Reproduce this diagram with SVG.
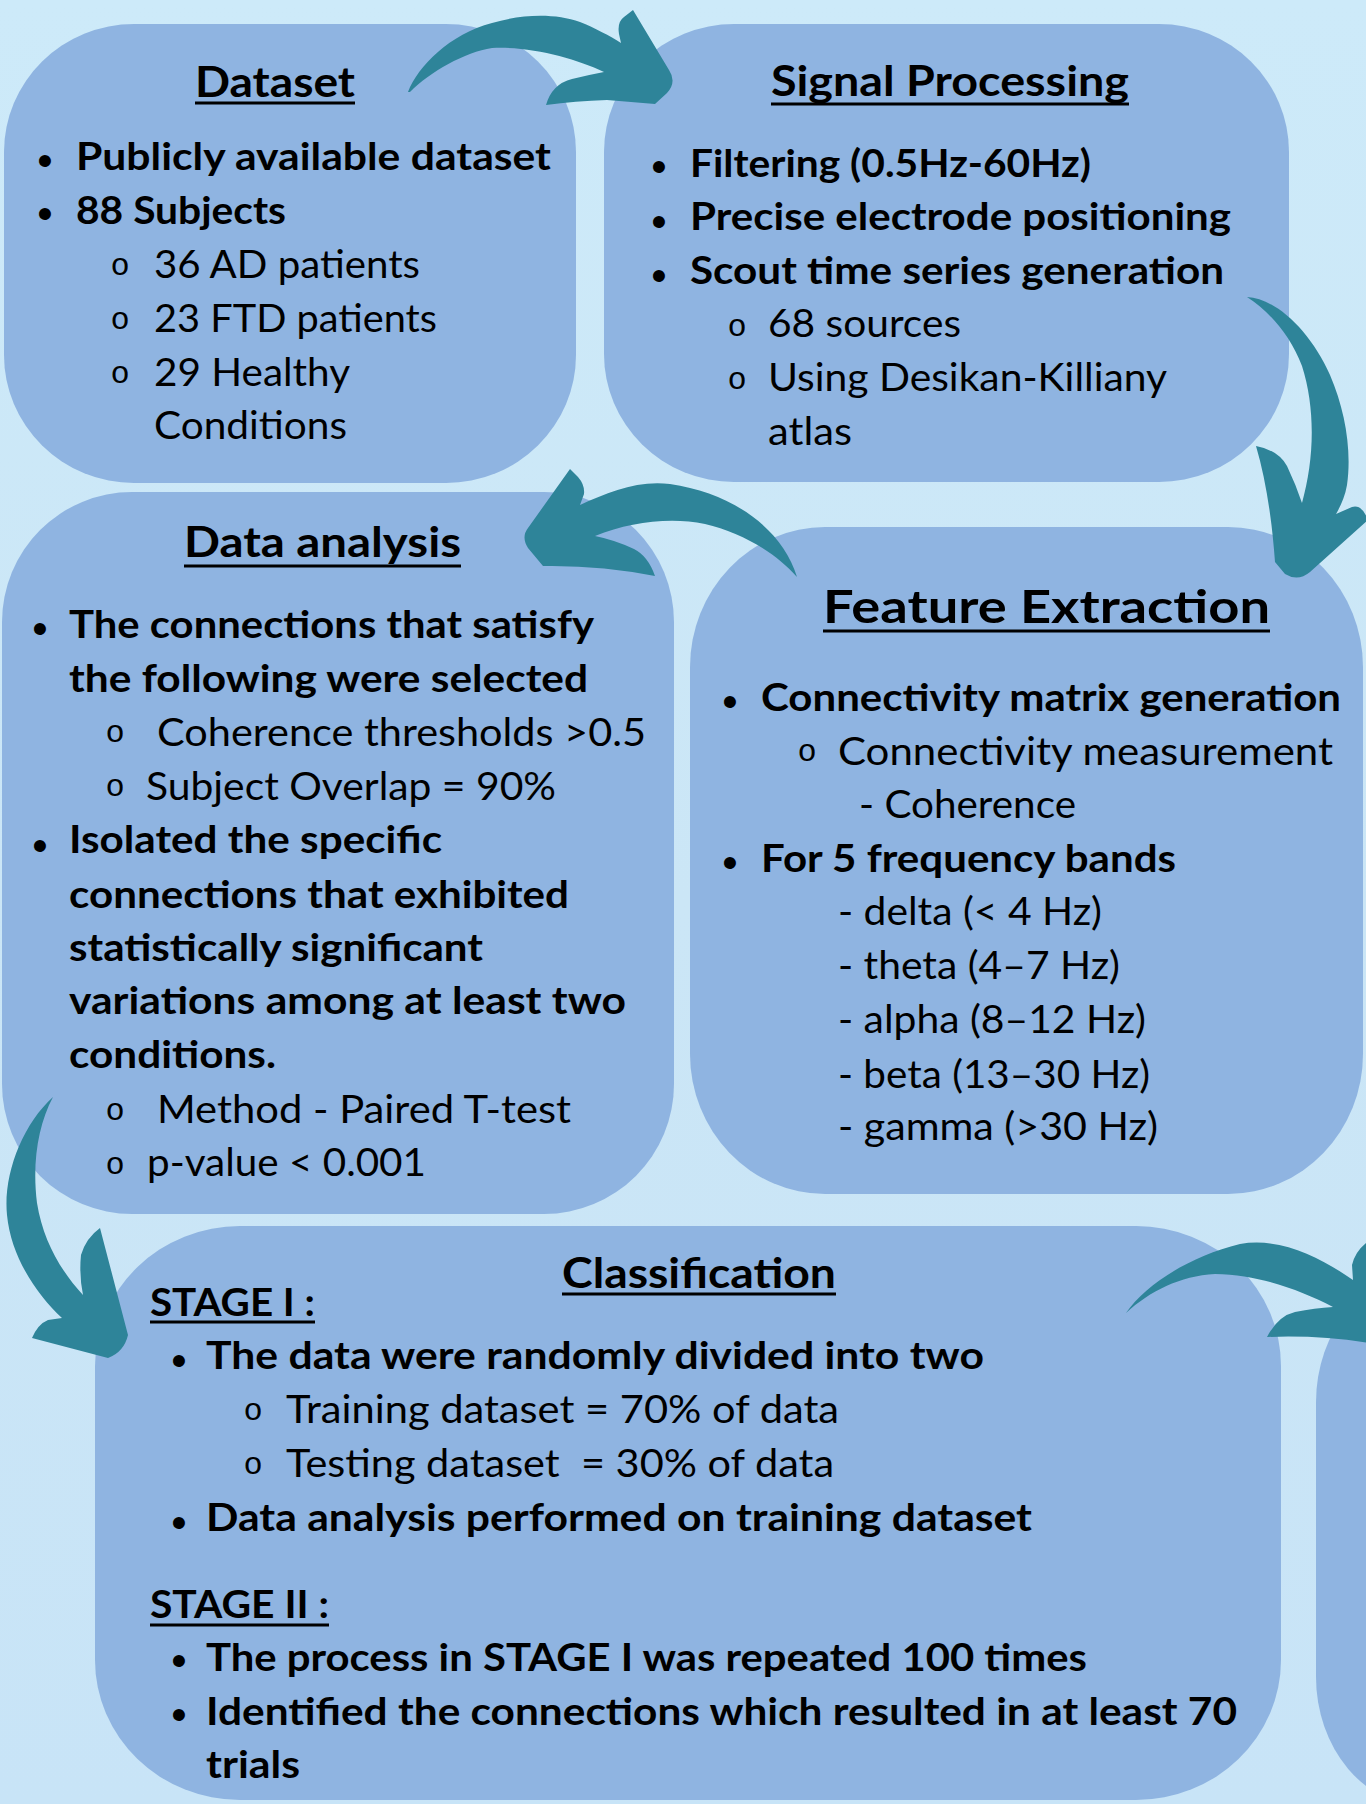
<svg xmlns="http://www.w3.org/2000/svg" width="1366" height="1804" viewBox="0 0 1366 1804">
<defs>
<linearGradient id="bg" x1="0" y1="0" x2="0" y2="1">
<stop offset="0" stop-color="#cdeaf9"/>
<stop offset="0.5" stop-color="#cbe6f6"/>
<stop offset="1" stop-color="#c8e4f7"/>
</linearGradient>
<style>
.box{fill:#8fb4e1}
.arrow{fill:#2e8499}
.t{font-family:Lato,"Open Sans","Liberation Sans",sans-serif;fill:#000}
.h{font-weight:700;font-size:42px}
.hl{font-weight:700;font-size:46px}
.b{font-weight:700;font-size:38px}
.r{font-weight:400;font-size:38px}
.dot{font-family:"Liberation Sans",Arial,sans-serif;font-size:44px;text-anchor:middle;fill:#000}
.ring{font-family:"Liberation Mono","Courier New",monospace;font-size:32px;text-anchor:middle;fill:#000}
.ul{stroke:#000;stroke-width:3}
</style>
</defs>
<rect x="0" y="0" width="1366" height="1804" fill="url(#bg)"/>

<g id="node-dataset">
<rect class="box" x="4" y="24" width="572" height="459" rx="130" ry="128"/>
<text class="t h" x="195" y="97" textLength="160" lengthAdjust="spacingAndGlyphs">Dataset</text>
<line class="ul" x1="195" y1="103" x2="355" y2="103"/>
<text class="dot" x="45" y="176">•</text>
<text class="t b" x="76" y="170" textLength="475" lengthAdjust="spacingAndGlyphs">Publicly available dataset</text>
<text class="dot" x="45" y="229">•</text>
<text class="t b" x="76" y="224" textLength="210" lengthAdjust="spacingAndGlyphs">88 Subjects</text>
<text class="ring" x="120" y="275">o</text>
<text class="t r" x="154" y="278" textLength="266" lengthAdjust="spacingAndGlyphs">36 AD patients</text>
<text class="ring" x="120" y="329">o</text>
<text class="t r" x="154" y="332" textLength="283" lengthAdjust="spacingAndGlyphs">23 FTD patients</text>
<text class="ring" x="120" y="383">o</text>
<text class="t r" x="154" y="386" textLength="196" lengthAdjust="spacingAndGlyphs">29 Healthy</text>
<text class="t r" x="154" y="439" textLength="193" lengthAdjust="spacingAndGlyphs">Conditions</text>
</g>

<g id="node-signal-processing">
<rect class="box" x="604" y="24" width="685" height="458" rx="130" ry="128"/>
<text class="t h" x="771" y="96" textLength="358" lengthAdjust="spacingAndGlyphs">Signal Processing</text>
<line class="ul" x1="771" y1="104" x2="1129" y2="104"/>
<text class="dot" x="659" y="182">•</text>
<text class="t b" x="690" y="177" textLength="401" lengthAdjust="spacingAndGlyphs">Filtering (0.5Hz-60Hz)</text>
<text class="dot" x="659" y="237">•</text>
<text class="t b" x="690" y="230" textLength="541" lengthAdjust="spacingAndGlyphs">Precise electrode positioning</text>
<text class="dot" x="659" y="291">•</text>
<text class="t b" x="690" y="284" textLength="534" lengthAdjust="spacingAndGlyphs">Scout time series generation</text>
<text class="ring" x="737" y="336">o</text>
<text class="t r" x="768" y="337" textLength="193" lengthAdjust="spacingAndGlyphs">68 sources</text>
<text class="ring" x="737" y="389">o</text>
<text class="t r" x="768" y="391" textLength="399" lengthAdjust="spacingAndGlyphs">Using Desikan-Killiany</text>
<text class="t r" x="768" y="445" textLength="84" lengthAdjust="spacingAndGlyphs">atlas</text>
</g>

<g id="node-data-analysis">
<rect class="box" x="2" y="492" width="672" height="722" rx="130" ry="130"/>
<text class="t h" x="184" y="557" textLength="277" lengthAdjust="spacingAndGlyphs">Data analysis</text>
<line class="ul" x1="184" y1="566" x2="461" y2="566"/>
<text class="dot" x="40" y="644">•</text>
<text class="t b" x="69" y="638" textLength="525" lengthAdjust="spacingAndGlyphs">The connections that satisfy</text>
<text class="t b" x="69" y="692" textLength="519" lengthAdjust="spacingAndGlyphs">the following were selected</text>
<text class="ring" x="115" y="742">o</text>
<text class="t r" x="157" y="746" textLength="489" lengthAdjust="spacingAndGlyphs">Coherence thresholds &gt;0.5</text>
<text class="ring" x="115" y="796">o</text>
<text class="t r" x="146" y="800" textLength="410" lengthAdjust="spacingAndGlyphs">Subject Overlap = 90%</text>
<text class="dot" x="40" y="861">•</text>
<text class="t b" x="69" y="853" textLength="373" lengthAdjust="spacingAndGlyphs">Isolated the specific</text>
<text class="t b" x="69" y="908" textLength="500" lengthAdjust="spacingAndGlyphs">connections that exhibited</text>
<text class="t b" x="69" y="961" textLength="414" lengthAdjust="spacingAndGlyphs">statistically significant</text>
<text class="t b" x="69" y="1014" textLength="557" lengthAdjust="spacingAndGlyphs">variations among at least two</text>
<text class="t b" x="69" y="1068" textLength="207" lengthAdjust="spacingAndGlyphs">conditions.</text>
<text class="ring" x="115" y="1120">o</text>
<text class="t r" x="157" y="1123" textLength="414" lengthAdjust="spacingAndGlyphs">Method - Paired T-test</text>
<text class="ring" x="115" y="1174">o</text>
<text class="t r" x="147" y="1176" textLength="279" lengthAdjust="spacingAndGlyphs">p-value &lt; 0.001</text>
</g>

<g id="node-feature-extraction">
<rect class="box" x="690" y="527" width="673" height="667" rx="135" ry="140"/>
<text class="t hl" x="823" y="623" textLength="447" lengthAdjust="spacingAndGlyphs">Feature Extraction</text>
<line class="ul" x1="823" y1="631" x2="1270" y2="631"/>
<text class="dot" x="730" y="717">•</text>
<text class="t b" x="761" y="711" textLength="580" lengthAdjust="spacingAndGlyphs">Connectivity matrix generation</text>
<text class="ring" x="807" y="761">o</text>
<text class="t r" x="838" y="765" textLength="495" lengthAdjust="spacingAndGlyphs">Connectivity measurement</text>
<text class="t r" x="859" y="818" textLength="217" lengthAdjust="spacingAndGlyphs">- Coherence</text>
<text class="dot" x="730" y="878">•</text>
<text class="t b" x="761" y="872" textLength="415" lengthAdjust="spacingAndGlyphs">For 5 frequency bands</text>
<text class="t r" x="838" y="925" textLength="264" lengthAdjust="spacingAndGlyphs">- delta (&lt; 4 Hz)</text>
<text class="t r" x="838" y="979" textLength="282" lengthAdjust="spacingAndGlyphs">- theta (4–7 Hz)</text>
<text class="t r" x="838" y="1033" textLength="308" lengthAdjust="spacingAndGlyphs">- alpha (8–12 Hz)</text>
<text class="t r" x="838" y="1088" textLength="312" lengthAdjust="spacingAndGlyphs">- beta (13–30 Hz)</text>
<text class="t r" x="838" y="1140" textLength="320" lengthAdjust="spacingAndGlyphs">- gamma (&gt;30 Hz)</text>
</g>

<g id="node-classification">
<rect class="box" x="95" y="1226" width="1186" height="574" rx="145" ry="140"/>
<text class="t h" x="562" y="1288" textLength="274" lengthAdjust="spacingAndGlyphs">Classification</text>
<line class="ul" x1="562" y1="1294" x2="836" y2="1294"/>
<text class="t b" x="150" y="1316" textLength="165" lengthAdjust="spacingAndGlyphs">STAGE I :</text>
<line class="ul" x1="150" y1="1322" x2="315" y2="1322"/>
<text class="dot" x="179" y="1376">•</text>
<text class="t b" x="206" y="1369" textLength="778" lengthAdjust="spacingAndGlyphs">The data were randomly divided into two</text>
<text class="ring" x="253" y="1420">o</text>
<text class="t r" x="286" y="1423" textLength="553" lengthAdjust="spacingAndGlyphs">Training dataset = 70% of data</text>
<text class="ring" x="253" y="1474">o</text>
<text class="t r" x="286" y="1477" textLength="548" lengthAdjust="spacingAndGlyphs" style="white-space:pre">Testing dataset  = 30% of data</text>
<text class="dot" x="179" y="1538">•</text>
<text class="t b" x="206" y="1531" textLength="826" lengthAdjust="spacingAndGlyphs">Data analysis performed on training dataset</text>
<text class="t b" x="150" y="1618" textLength="179" lengthAdjust="spacingAndGlyphs">STAGE II :</text>
<line class="ul" x1="150" y1="1625" x2="329" y2="1625"/>
<text class="dot" x="179" y="1676">•</text>
<text class="t b" x="206" y="1671" textLength="881" lengthAdjust="spacingAndGlyphs">The process in STAGE I was repeated 100 times</text>
<text class="dot" x="179" y="1730">•</text>
<text class="t b" x="206" y="1725" textLength="1031" lengthAdjust="spacingAndGlyphs">Identified the connections which resulted in at least 70</text>
<text class="t b" x="206" y="1778" textLength="94" lengthAdjust="spacingAndGlyphs">trials</text>
</g>

<g id="node-next">
<rect class="box" x="1316" y="1272" width="220" height="535" rx="130" ry="130"/>
</g>

<g id="connectors">
<path class="arrow" d="M 408 92 C 418 66 450 34 492 23 C 522 14 555 13 580 22 C 595 28 610 36 621 43 L 619 34 Q 617 22 624 17 L 633 10 L 669 70 Q 677 82 667 93 L 655 104 L 607 100 Q 575 101 546 105 Q 552 84 572 79 Q 588 75 604 72 C 575 58 530 46 492 48 C 465 52 430 72 410 92 Z"/>
<path class="arrow" d="M 1247 297 C 1275 298 1310 330 1330 375 C 1345 410 1352 450 1347 485 C 1345 497 1340 507 1336 514 L 1352 507 Q 1362 504 1368 520 L 1310 572 Q 1298 582 1285 574 L 1275 562 C 1272 520 1266 480 1256 446 Q 1278 450 1287 466 Q 1296 485 1302 503 C 1314 460 1316 410 1302 366 C 1290 335 1270 312 1247 297 Z"/>
<path class="arrow" d="M 797 577 C 782 528 732 493 670 484 C 638 480 608 492 580 505 L 584 494 Q 585 485 578 477 L 570 469 L 528 528 Q 521 537 528 548 L 543 566 Q 600 565 655 576 Q 648 556 634 549 Q 615 540 595 536 C 630 522 670 517 705 524 C 740 532 775 552 797 577 Z"/>
<path class="arrow" d="M 53 1097 C 22 1125 3 1175 7 1215 C 11 1257 37 1295 62 1318 L 48 1320 Q 38 1324 32 1338 L 108 1358 Q 124 1352 128 1335 L 100 1228 Q 86 1238 81 1255 Q 79 1275 83 1295 C 60 1270 43 1240 37 1203 C 32 1163 38 1125 53 1097 Z"/>
<path class="arrow" d="M 1126 1313 C 1145 1285 1190 1256 1240 1244 C 1280 1237 1320 1257 1353 1280 L 1352 1265 Q 1355 1252 1366 1243 L 1385 1225 L 1420 1300 L 1370 1343 Q 1320 1335 1267 1337 Q 1278 1316 1295 1312 Q 1315 1308 1333 1307 C 1300 1290 1260 1275 1215 1274 C 1180 1276 1150 1291 1126 1313 Z"/>
</g>
</svg>
